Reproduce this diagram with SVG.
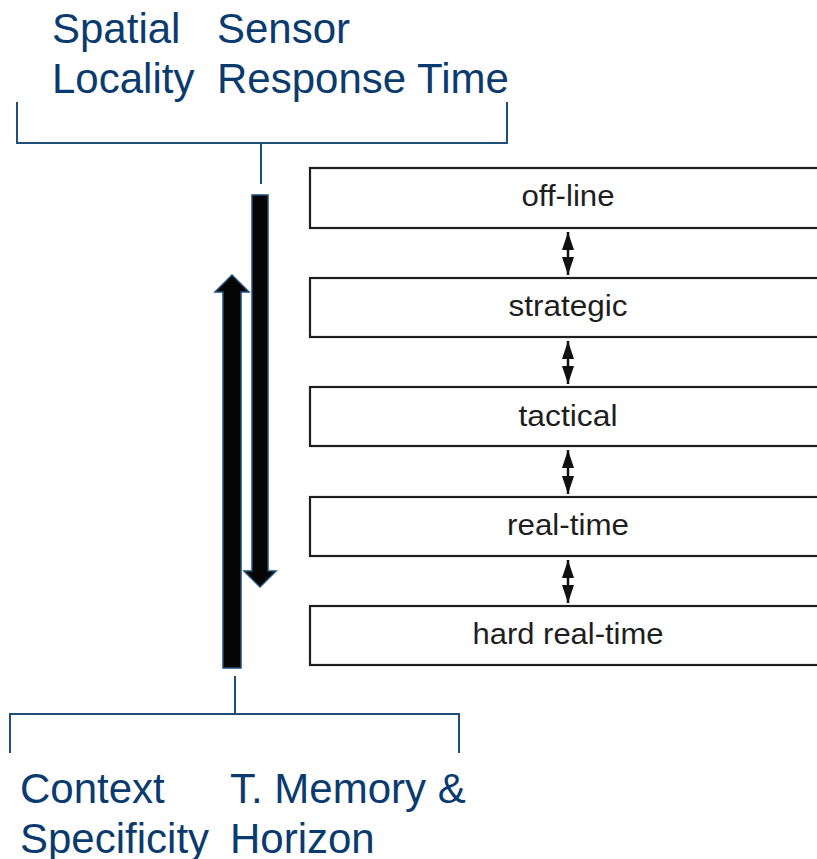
<svg xmlns="http://www.w3.org/2000/svg" width="817" height="859" viewBox="0 0 817 859">
  <style>
    .lbl { font-family: "Liberation Sans", Arial, sans-serif; font-size: 42px; fill: #0b3b6e; }
    .box { fill: #ffffff; stroke: #1e1e1e; stroke-width: 2.2; }
    .btxt { font-family: "Liberation Sans", Arial, sans-serif; font-size: 29px; fill: #1e1e1e; text-anchor: middle; }
    .brk { fill: none; stroke: #1f4e79; stroke-width: 2; }
    .big { fill: #050505; stroke: #1f4e79; stroke-width: 1.5; stroke-linejoin: miter; }
    .small { stroke: #111; stroke-width: 2.5; fill: none; }
  </style>
  <defs>
    <marker id="ah" viewBox="0 0 18 12" refX="18" refY="6" markerWidth="18" markerHeight="12" markerUnits="userSpaceOnUse" orient="auto-start-reverse">
      <path d="M0,0 L18,6 L0,12 Z" fill="#111"/>
    </marker>
  </defs>
  <rect width="817" height="859" fill="#ffffff"/>

  <g id="label-top">
    <text class="lbl" x="52" y="43">Spatial</text>
    <text class="lbl" x="52" y="93">Locality</text>
    <text class="lbl" x="217" y="43">Sensor</text>
    <text class="lbl" x="217" y="93">Response Time</text>
  </g>
  <g id="label-bottom">
    <text class="lbl" x="20" y="803">Context</text>
    <text class="lbl" x="20" y="853">Specificity</text>
    <text class="lbl" x="230" y="803">T. Memory &amp;</text>
    <text class="lbl" x="230" y="853">Horizon</text>
  </g>

  <g id="bracket-top">
    <path class="brk" d="M17,102 V143 H507 V102 M261,143 V184"/>
  </g>
  <g id="bracket-bottom">
    <path class="brk" d="M10,753 V714 H459 V753 M235,714 V676"/>
  </g>

  <g id="arrow-down">
    <polygon class="big" points="252,195 268,195 268,571 276,571 260,587 244,571 252,571"/>
  </g>
  <g id="arrow-up">
    <polygon class="big" points="223,668 241,668 241,292 249,292 232,275 215,292 223,292"/>
  </g>

  <g id="box-offline">
    <rect class="box" x="310" y="168" width="520" height="60"/>
    <text class="btxt" x="568" y="206" textLength="93" lengthAdjust="spacingAndGlyphs">off-line</text>
  </g>
  <g id="box-strategic">
    <rect class="box" x="310" y="278" width="520" height="59"/>
    <text class="btxt" x="568" y="316" textLength="119" lengthAdjust="spacingAndGlyphs">strategic</text>
  </g>
  <g id="box-tactical">
    <rect class="box" x="310" y="387" width="520" height="59"/>
    <text class="btxt" x="568" y="426" textLength="99" lengthAdjust="spacingAndGlyphs">tactical</text>
  </g>
  <g id="box-realtime">
    <rect class="box" x="310" y="497" width="520" height="59"/>
    <text class="btxt" x="568" y="535" textLength="122" lengthAdjust="spacingAndGlyphs">real-time</text>
  </g>
  <g id="box-hardrealtime">
    <rect class="box" x="310" y="606" width="520" height="59"/>
    <text class="btxt" x="568" y="644" textLength="191" lengthAdjust="spacingAndGlyphs">hard real-time</text>
  </g>

  <g id="connectors">
    <line class="small" x1="568" y1="232" x2="568" y2="275" marker-start="url(#ah)" marker-end="url(#ah)"/>
    <line class="small" x1="568" y1="341" x2="568" y2="384" marker-start="url(#ah)" marker-end="url(#ah)"/>
    <line class="small" x1="568" y1="450" x2="568" y2="494" marker-start="url(#ah)" marker-end="url(#ah)"/>
    <line class="small" x1="568" y1="560" x2="568" y2="603" marker-start="url(#ah)" marker-end="url(#ah)"/>
  </g>
</svg>
